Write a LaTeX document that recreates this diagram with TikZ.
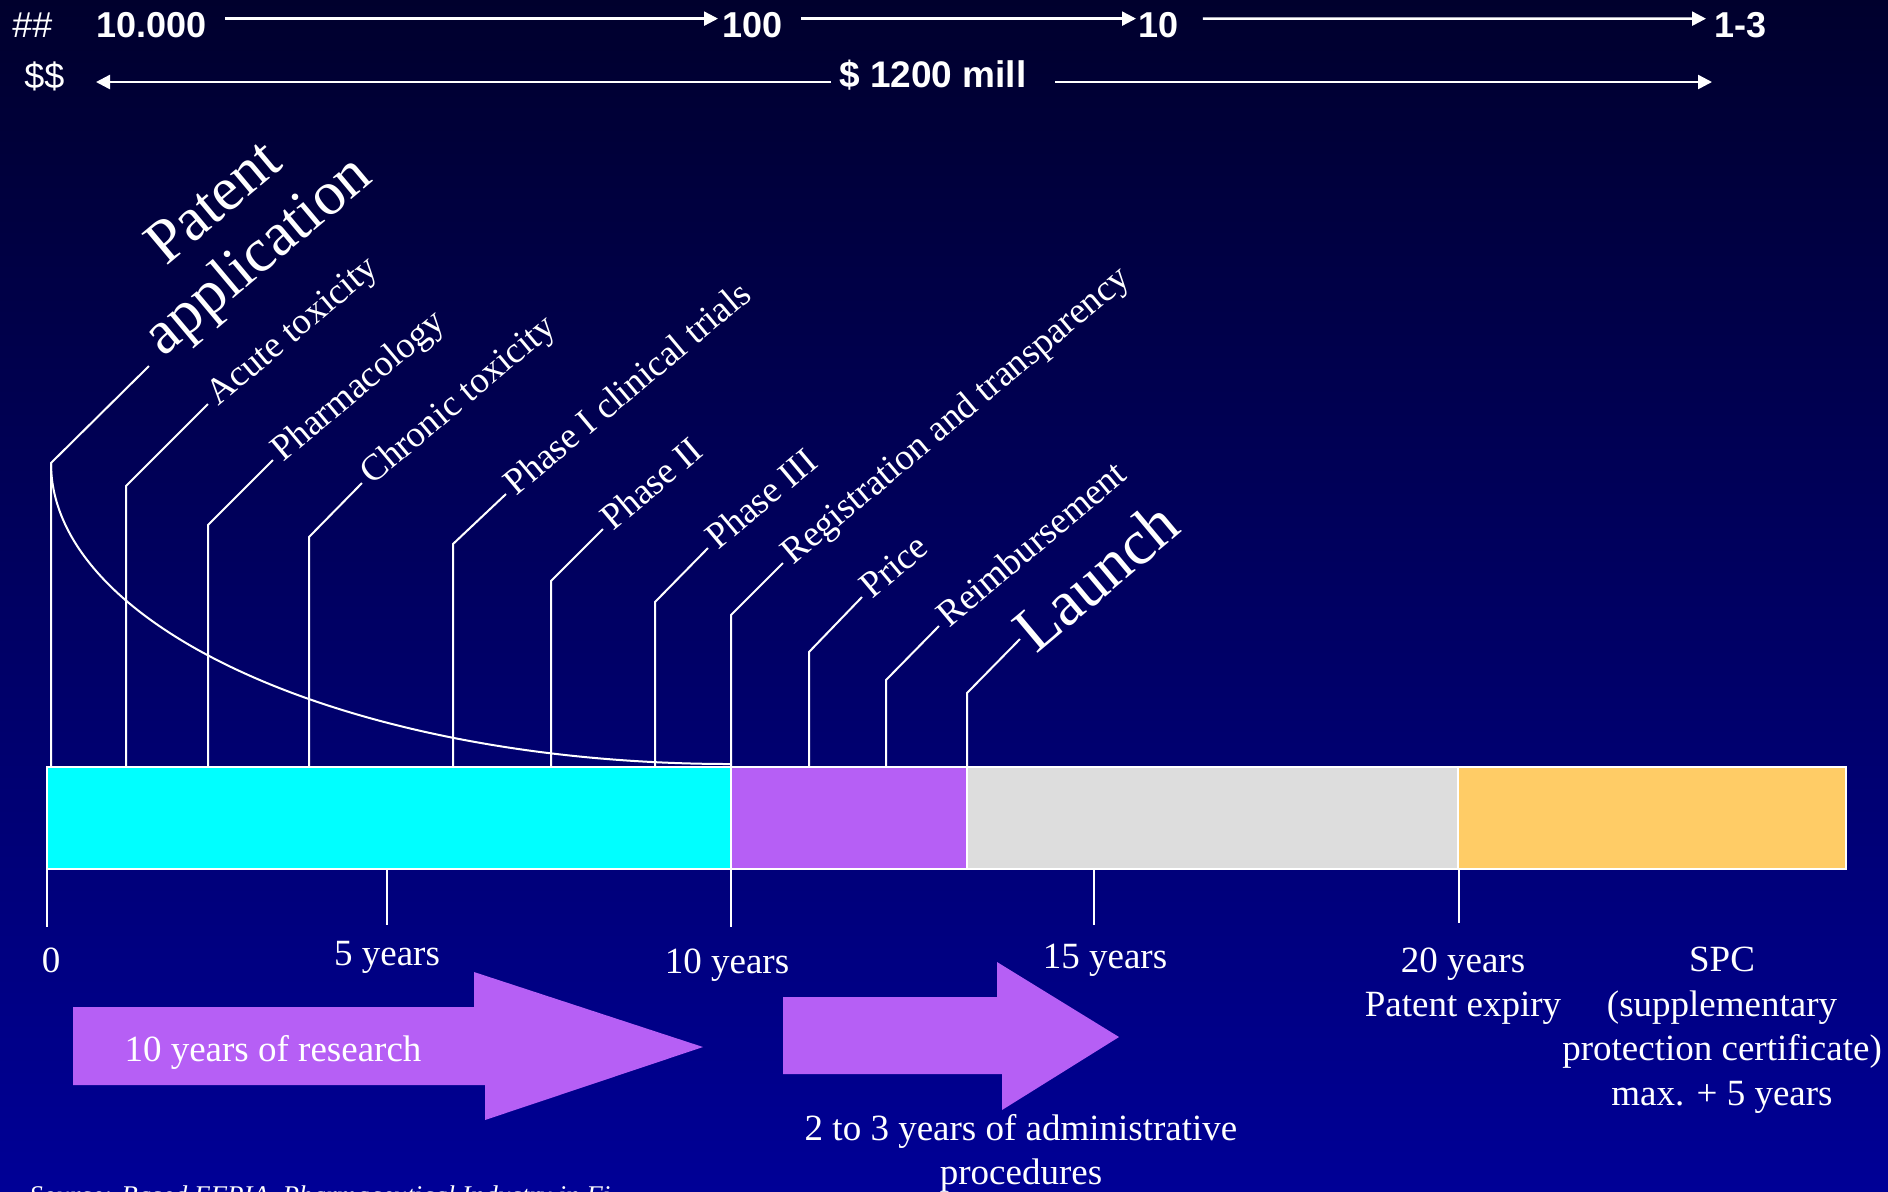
\documentclass[tikz,border=0pt]{standalone}
\usepackage{fontspec}
\setmainfont{Liberation Serif}
\setsansfont{Liberation Sans}
\usetikzlibrary{arrows.meta}

\definecolor{bgtop}{RGB}{0,0,45}
\definecolor{bgmid}{RGB}{0,0,118}
\definecolor{bgbot}{RGB}{0,0,150}
\definecolor{research}{RGB}{0,255,255}
\definecolor{admin}{RGB}{182,95,245}
\definecolor{market}{RGB}{221,221,221}
\definecolor{spc}{RGB}{255,204,102}

\tikzset{
  milestone/.style={xshift=5pt, yshift=-1.5pt, rotate=40, anchor=base west, text=white, inner sep=0pt, font=\fontsize{18.5}{22}\selectfont},
  bigmilestone/.style={rotate=40, anchor=base west, text=white, inner sep=0pt, font=\fontsize{31}{34}\selectfont},
  stem/.style={white, line width=1pt},
  tick/.style={white, line width=0.8pt},
  yearlabel/.style={text=white, anchor=base, inner sep=0pt, align=center, font=\fontsize{18.5}{22.2}\selectfont},
  toplabel/.style={text=white, anchor=base west, inner sep=0pt, font=\sffamily\bfseries\fontsize{18}{21}\selectfont},
  topsign/.style={toplabel, font=\sffamily\fontsize{18}{21}\selectfont},
  flow/.style={white, line width=1.2pt, -{Triangle[length=7pt,width=7pt]}},
  segment/.style={draw=white, line width=1pt},
  bigarrow/.style={fill=admin, draw=none}
}

\begin{document}
\begin{tikzpicture}[x=0.5pt, y=-0.5pt]
  % Background
  \shade[top color=bgtop, middle color=bgmid, bottom color=bgbot] (0,0) rectangle (1888,1191);
  \useasboundingbox (0,0) rectangle (1888,1191);

  % Number of compounds
  \node[topsign] (hash) at (12,37) {\#\#};
  \node[toplabel] (n10000) at (96,37) {10.000};
  \node[toplabel] (n100) at (722,37) {100};
  \node[toplabel] (n10) at (1138,37) {10};
  \node[toplabel] (n13) at (1714,37) {1-3};
  \draw[flow, shorten <=9pt, shorten >=2pt] ([yshift=3pt]n10000.east) -- ([yshift=3pt]n100.west);
  \draw[flow, shorten <=9pt, shorten >=1pt] ([yshift=3pt]n100.east) -- ([yshift=3pt]n10.west);
  \draw[flow, shorten <=12pt, shorten >=4pt] ([yshift=3pt]n10.east) -- ([yshift=3pt]n13.west);

  % Cost
  \node[topsign] (dollars) at (24,88) {\$\$};
  \node[toplabel, anchor=base, font=\sffamily\bfseries\fontsize{18.5}{21}\selectfont] (cost) at (933,87) {\$ 1200 mill};
  \coordinate (cost left) at (96,82);
  \coordinate (cost right) at (1712,82);
  \draw[flow] ([xshift=-4pt, yshift=2.5pt]cost.base west) -- (cost left);
  \draw[flow] ([xshift=14pt, yshift=2.5pt]cost.base east) -- (cost right);

  % Time bar
  \draw[segment, fill=research] (47,767) rectangle (731,869);
  \draw[segment, fill=admin] (731,767) rectangle (967,869);
  \draw[segment, fill=market] (967,767) rectangle (1458,869);
  \draw[segment, fill=spc] (1458,767) rectangle (1846,869);

  % Year ticks
  \coordinate (t0) at (47,870);
  \coordinate (t5) at (387,870);
  \coordinate (t10) at (731,870);
  \coordinate (t15) at (1094,870);
  \coordinate (t20) at (1459,870);
  \draw[tick] (t0) -- ++(0,57);
  \draw[tick] (t5) -- ++(0,55);
  \draw[tick] (t10) -- ++(0,57);
  \draw[tick] (t15) -- ++(0,55);
  \draw[tick] (t20) -- ++(0,53);
  \node[yearlabel] (y0) at (51,972) {0};
  \node[yearlabel] (y5) at (387,965) {5 years};
  \node[yearlabel] (y10) at (727,973) {10 years};
  \node[yearlabel] (y15) at (1105,968) {15 years};
  \node[yearlabel, anchor=north] (y20) at (1463,947) {20 years\\Patent expiry};
  \node[yearlabel, anchor=north] (ext) at (1722,947) {SPC\\(supplementary\\protection certificate)\\max. + 5 years};

  % Milestones
  \coordinate (patent foot) at (51,767);
  \coordinate (patent bend) at (51,463);
  \coordinate (patent end) at (149,366);
  \draw[stem] (patent foot) -- (patent bend) -- (patent end);
  \node[bigmilestone, anchor=south west, align=center] (patent) at (172,368) {Patent\\application};

  \coordinate (acute foot) at (126,767);
  \coordinate (acute bend) at (126,486);
  \coordinate (acute end) at (208,404);
  \draw[stem] (acute foot) -- (acute bend) -- (acute end);
  \node[milestone] (acute) at (acute end) {Acute toxicity};

  \coordinate (pharma foot) at (208,767);
  \coordinate (pharma bend) at (208,525);
  \coordinate (pharma end) at (273,460);
  \draw[stem] (pharma foot) -- (pharma bend) -- (pharma end);
  \node[milestone] (pharma) at (pharma end) {Pharmacology};

  \coordinate (chronic foot) at (309,767);
  \coordinate (chronic bend) at (309,537);
  \coordinate (chronic end) at (362,483);
  \draw[stem] (chronic foot) -- (chronic bend) -- (chronic end);
  \node[milestone] (chronic) at (chronic end) {Chronic toxicity};

  \coordinate (phase1 foot) at (453,767);
  \coordinate (phase1 bend) at (453,544);
  \coordinate (phase1 end) at (506,494);
  \draw[stem] (phase1 foot) -- (phase1 bend) -- (phase1 end);
  \node[milestone] (phase1) at (phase1 end) {Phase I clinical trials};

  \coordinate (phase2 foot) at (551,767);
  \coordinate (phase2 bend) at (551,581);
  \coordinate (phase2 end) at (603,529);
  \draw[stem] (phase2 foot) -- (phase2 bend) -- (phase2 end);
  \node[milestone] (phase2) at (phase2 end) {Phase II};

  \coordinate (phase3 foot) at (655,767);
  \coordinate (phase3 bend) at (655,602);
  \coordinate (phase3 end) at (708,548);
  \draw[stem] (phase3 foot) -- (phase3 bend) -- (phase3 end);
  \node[milestone] (phase3) at (phase3 end) {Phase III};

  \coordinate (reg foot) at (731,767);
  \coordinate (reg bend) at (731,615);
  \coordinate (reg end) at (783,563);
  \draw[stem] (reg foot) -- (reg bend) -- (reg end);
  \node[milestone] (reg) at (reg end) {Registration and transparency};

  \coordinate (price foot) at (809,767);
  \coordinate (price bend) at (809,652);
  \coordinate (price end) at (862,597);
  \draw[stem] (price foot) -- (price bend) -- (price end);
  \node[milestone] (price) at (price end) {Price};

  \coordinate (reimb foot) at (886,767);
  \coordinate (reimb bend) at (886,680);
  \coordinate (reimb end) at (939,626);
  \draw[stem] (reimb foot) -- (reimb bend) -- (reimb end);
  \node[milestone] (reimb) at (reimb end) {Reimbursement};

  \coordinate (launch foot) at (967,767);
  \coordinate (launch bend) at (967,693);
  \coordinate (launch end) at (1020,639);
  \draw[stem] (launch foot) -- (launch bend) -- (launch end);
  \node[bigmilestone, font=\fontsize{32}{34}\selectfont] (launch) at (1036,655) {Launch};

  % Falling number of candidates
  \coordinate (decay end) at (731,764);
  \draw[stem] (patent bend) .. controls (51,629) and (355,764) .. (decay end);

  % Research and admin arrows
  \fill[bigarrow] (73,1007) -- (474,1007) -- (474,972) -- (703,1047) -- (485,1120) -- (485,1085) -- (73,1085) -- cycle;
  \node[yearlabel] (research) at (273,1061) {10 years of research};
  \fill[bigarrow] (783,997) -- (997,997) -- (997,962) -- (1119,1037) -- (1002,1110) -- (1002,1074) -- (783,1074) -- cycle;
  \node[yearlabel, anchor=north] (admin) at (1021,1114) {2 to 3 years of administrative\\procedures};

  % Source
  \node[text=white, anchor=base west, inner sep=0pt, font=\itshape\fontsize{13.5}{16}\selectfont] (source) at (29,1204) {Source: Based EFPIA, Pharmaceutical Industry in Fi};
\end{tikzpicture}
\end{document}
